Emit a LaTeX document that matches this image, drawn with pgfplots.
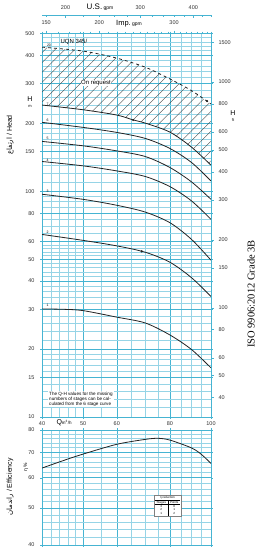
\documentclass[border=0pt]{standalone}
\usepackage{pgfplots}
\pgfplotsset{compat=1.18}
\usetikzlibrary{patterns.meta}
\usepackage{fontspec}
\setmainfont{Liberation Sans}
\newfontfamily\seriffont{Liberation Serif}
\newfontfamily\arabicfont[Script=Arabic]{DejaVu Sans}
\TeXXeTstate=1
\definecolor{gridc}{RGB}{70,180,210}
\definecolor{gridl}{RGB}{150,212,230}
\definecolor{curvec}{RGB}{35,35,35}
\tikzset{myCurve/.style={curvec, line width=0.8pt, smooth}}
\begin{document}
\begin{tikzpicture}
\useasboundingbox (0pt,0pt) rectangle (262pt,-550pt);

% ---------------- Head axis (m) ----------------
\begin{axis}[
  scale only axis, width=169pt, height=383.5pt,
  at={(42pt,-417pt)}, anchor=south west,
  xmode=log, ymode=log, xmin=40, xmax=100, ymin=10, ymax=500,
  /pgf/number format/assume math mode=true,
  ticklabel style={font=\fontsize{5.5}{6}\selectfont, text=black!80},
  axis line style={gridc, line width=0.6pt},
  tick style={gridc, line width=0.4pt},
  grid=both,
  major grid style={gridc, line width=0.55pt},
  minor grid style={gridl, line width=0.35pt},
  tick align=outside, major tick length=2pt, minor tick length=0pt,
  xtick={40,50,60,80,100},
  minor xtick={42,44,46,48,55,65,70,75,85,90,95},
  xticklabels={40,50,60,80,100},
  xticklabel style={yshift=1pt},
  ytick={10,15,20,30,40,50,60,80,100,150,200,300,400,500},
  yticklabels={10,15,20,30,40,50,60,80,100,150,200,300,400,500},
  yticklabel style={xshift=-2pt},
  minor ytick={11,12,13,14,16,17,18,19,22,24,26,28,32,34,36,38,42,44,46,48,52,54,56,58,65,70,75,85,90,95,110,120,130,140,160,170,180,190,220,240,260,280,320,340,360,380,420,440,460,480},
]
\addplot[draw=none, pattern={Lines[angle=45,distance=7pt,line width=0.35pt]}, pattern color=black!75] coordinates {(40,435) (50,417.8) (60,388.9) (70,354.6) (80,314.6) (90,279.1) (100,243.6) (100,130.5) (90,156.8) (80,182.9) (70,200.5) (65.6,207) (60,217.6) (50,229.7) (40,241)};
\addplot[myCurve, dashed] coordinates {(40,435) (50,417.8) (60,388.9) (70,354.6) (80,314.6) (90,279.1) (100,243.6)};
\addplot[myCurve] coordinates {(40,241) (50,229.7) (60,217.6) (65.6,207) (70,200.5) (80,182.9) (90,156.8) (100,130.5)};
\addplot[myCurve] coordinates {(40,202) (50,191.9) (60,182.3) (70,171.5) (80,154.8) (90,134.1) (100,111.1)};
\addplot[myCurve] coordinates {(40,166.3) (50,159) (60,151) (70,142.6) (80,127.5) (90,110) (100,92.1)};
\addplot[myCurve] coordinates {(40,135.5) (50,129.6) (60,123.1) (70,116.3) (80,104.9) (90,90.6) (100,75.1)};
\addplot[myCurve] coordinates {(40,97) (50,92.1) (60,86.7) (70,80.9) (80,72.6) (90,61.2) (100,49.5)};
\addplot[myCurve] coordinates {(40,64.4) (50,60.6) (60,57.3) (70,53.7) (80,48.5) (90,41.4) (100,34.2)};
\addplot[myCurve] coordinates {(40,30.1) (45,30.0) (50,29.6) (60,27.7) (70,26.1) (80,23.1) (90,19.9) (100,16.5)};
\addplot[only marks, mark=*, mark size=0.9pt, curvec] coordinates {(65.6,207) (68.7,54.2) (97.9,251)};
\end{axis}

% ---------------- Head axis (ft), right ----------------
\begin{axis}[
  scale only axis, width=169pt, height=383.5pt,
  at={(42pt,-417pt)}, anchor=south west,
  xmode=log, ymode=log, xmin=40, xmax=100, ymin=32.8084, ymax=1640.42,
  /pgf/number format/assume math mode=true,
  ticklabel style={font=\fontsize{5.5}{6}\selectfont, text=black!80},
  axis line style={gridc, line width=0.6pt},
  tick style={gridc, line width=0.4pt},
  axis y line*=right, axis x line=none,
  ytick={40,50,60,80,100,150,200,300,400,500,600,800,1000,1500},
  yticklabels={40,50,60,80,100,150,200,300,400,500,600,800,1000,1500},
  minor ytick={35,45,55,65,70,75,85,90,95,110,120,130,140,160,170,180,190,220,240,260,280,320,340,360,380,450,550,650,700,750,850,900,950,1100,1200,1300,1400,1600},
  tick align=outside, major tick length=3pt, minor tick length=1.5pt,
  yticklabel style={xshift=1pt},
]
\addplot[draw=none] coordinates {(50,100)};
\end{axis}

% ---------------- Imp. gpm axis ----------------
\begin{axis}[
  scale only axis, width=169pt, height=383.5pt,
  at={(42pt,-417pt)}, anchor=south west,
  xmode=log, xmin=146.646, xmax=366.615, ymin=0, ymax=1,
  /pgf/number format/assume math mode=true,
  ticklabel style={font=\fontsize{5.5}{6}\selectfont, text=black!80},
  axis line style={gridc, line width=0.6pt},
  tick style={gridc, line width=0.4pt},
  axis x line*=top, axis y line=none,
  xtick={150,200,300}, xticklabels={150,200,300},
  minor xtick={160,170,180,190,210,220,230,240,250,260,270,280,290,310,320,330,340,350,360},
  tick align=outside, major tick length=3pt, minor tick length=1.8pt,
  xticklabel style={yshift=2pt},
]
\addplot[draw=none] coordinates {(200,0.5)};
\end{axis}

% ---------------- U.S. gpm axis ----------------
\begin{axis}[
  scale only axis, width=169pt, height=4pt,
  at={(42pt,-15pt)}, anchor=north west,
  xmode=log, xmin=176.115, xmax=440.287, ymin=0, ymax=1,
  /pgf/number format/assume math mode=true,
  ticklabel style={font=\fontsize{5.5}{6}\selectfont, text=black!80},
  axis line style={gridc, line width=0.6pt},
  tick style={gridc, line width=0.4pt},
  axis x line*=top, axis y line=none,
  xtick={200,300,400}, xticklabels={200,300,400},
  minor xtick={180,220,240,260,280,320,340,360,380,420,440},
  tick align=inside, major tick length=3pt, minor tick length=1.8pt,
  xticklabel style={yshift=2pt},
]
\addplot[draw=none] coordinates {(300,0.5)};
\end{axis}

% ---------------- Efficiency axis ----------------
\begin{axis}[
  scale only axis, width=169pt, height=115pt,
  at={(42pt,-545pt)}, anchor=south west,
  xmode=log, ymode=log, xmin=40, xmax=100, ymin=40, ymax=80,
  /pgf/number format/assume math mode=true,
  ticklabel style={font=\fontsize{5.5}{6}\selectfont, text=black!80},
  axis line style={gridc, line width=0.6pt},
  tick style={gridc, line width=0.4pt},
  grid=both,
  major grid style={gridc, line width=0.55pt},
  minor grid style={gridl, line width=0.35pt},
  tick align=outside, major tick length=2pt, minor tick length=0pt,
  xtick={40,50,60,80,100},
  minor xtick={42,44,46,48,55,65,70,75,85,90,95},
  xticklabels={},
  ytick={40,50,60,70,80}, yticklabels={40,50,60,70,80},
  yticklabel style={xshift=-2pt},
  minor ytick={42,44,46,48,52,54,56,58,62,64,66,68,72,74,76,78},
]
\addplot[myCurve] coordinates {(40,63.6) (45,66.6) (50,69.2) (60,73.4) (70,75.6) (75,76.1) (80,75.3) (90,71.8) (95,69) (100,65.4)};
\end{axis}

% ---------------- Texts ----------------
\node[font=\fontsize{8}{9}\selectfont] at (100pt,-7pt) {U.S.\,\fontsize{5}{6}\selectfont gpm};
\node[font=\fontsize{7.5}{8}\selectfont] at (129pt,-24pt) {Imp.\,\fontsize{5}{6}\selectfont gpm};
\node[font=\fontsize{7}{8}\selectfont] at (30pt,-99pt) {H};
\node[font=\fontsize{4}{5}\selectfont] at (30pt,-106pt) {m};
\node[font=\fontsize{7}{8}\selectfont] at (233pt,-113pt) {H};
\node[font=\fontsize{4}{5}\selectfont] at (233pt,-120pt) {ft};
\node[rotate=90, font=\fontsize{7}{8}\selectfont] at (10pt,-135pt) {{\arabicfont\beginR ارتفاع\endR} / Head};
\node[rotate=90, font=\fontsize{7}{8}\selectfont] at (10pt,-487pt) {{\arabicfont\beginR راندمان\endR} / Efficiency};
\node[rotate=90, font=\fontsize{5}{6}\selectfont] at (26pt,-467pt) {η \%};
\node[rotate=90, font=\seriffont\fontsize{10.5}{12}\selectfont] at (251pt,-294pt) {ISO 9906:2012 Grade 3B};
\node[font=\fontsize{7}{8}\selectfont, anchor=west] at (53pt,-423pt) {Q\fontsize{4.5}{5}\selectfont m\textsuperscript{3}/h};
\node[font=\fontsize{6}{7}\selectfont, anchor=west] at (57pt,-42pt) {UQN 345/};
\node[font=\fontsize{6}{7}\selectfont, fill=white, inner sep=0.5pt] at (96pt,-83pt) {On request};
\node[font=\fontsize{3.5}{4}\selectfont] at (49pt,-45pt) {20};
\node[font=\fontsize{3.5}{4}\selectfont] at (47.5pt,-104pt) {7};
\node[font=\fontsize{3.5}{4}\selectfont] at (47.5pt,-120pt) {6};
\node[font=\fontsize{3.5}{4}\selectfont] at (47.5pt,-138pt) {5};
\node[font=\fontsize{3.5}{4}\selectfont] at (47.5pt,-160pt) {4};
\node[font=\fontsize{3.5}{4}\selectfont] at (47.5pt,-191pt) {3};
\node[font=\fontsize{3.5}{4}\selectfont] at (47.5pt,-232pt) {2};
\node[font=\fontsize{3.5}{4}\selectfont] at (47.5pt,-305pt) {1};
\node[fill=white, inner sep=1pt, align=left, anchor=north west, font=\fontsize{4.6}{4.9}\selectfont] at (48pt,-391pt) {The Q-H values for the missing\\numbers of stages can be cal-\\culated from the 6 stage curve};
\node[fill=white, draw=gray, inner sep=0.6pt, font=\fontsize{3}{3.4}\selectfont] at (167.5pt,-506pt) {\setlength{\tabcolsep}{2pt}\renewcommand{\arraystretch}{1.1}\begin{tabular}{c|c}
\multicolumn{2}{c}{η reduction}\\\hline
Stages & Points\\\hline
3 & 0\\
2 & 1\\
1 & 2
\end{tabular}};
\end{tikzpicture}
\end{document}
